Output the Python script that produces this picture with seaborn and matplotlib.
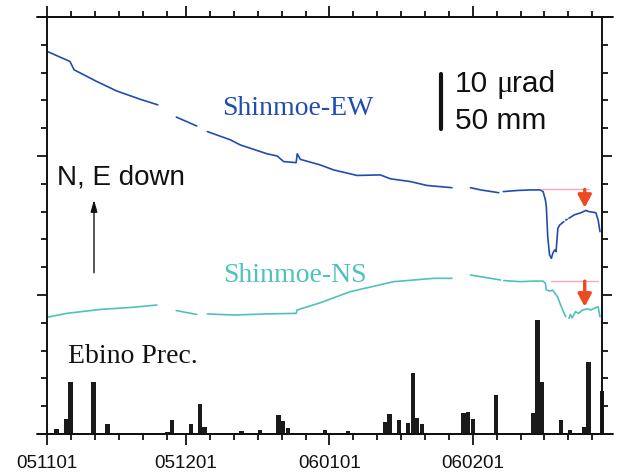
import numpy as np
import pandas as pd
import seaborn as sns
from matplotlib import pyplot as plt
from matplotlib.ticker import FixedLocator, MultipleLocator

# x: days since 2005-11-01, tilt in micro-radian (offset as drawn), rain in mm/day
month_start = [0, 30, 61, 92]
month_labels = ['051101', '051201', '060101', '060201']

ew_day = [0, 4.9, 5.8, 10.7, 15.0, 20.1, 23.9, np.nan,
          27.9, 32.3, np.nan,
          34.6, 39.6, 41.7, 47.5, 49.7, 51.1, 53.8, 54.05, 54.7, 59.0, 61.9, 67.0, 72.0,
          74.2, 78.5, 82.1, 87.5, np.nan,
          91.5, 93.7, 97.6, np.nan,
          98.6, 101.6, 104.5, 106.6, 107.2, 107.7, 107.9, 108.2, 108.6, 109.0, 109.3, 109.7,
          110.0, 110.4, 110.8, 111.7, np.nan,
          112.1, 112.4, np.nan,
          112.8, 113.9, 115.4, 116.4, 117.1, 118.6, 119.1, 119.5]
ew_tilt = [68.8, 67.0, 65.5, 63.4, 61.7, 60.2, 59.2, np.nan,
           57.0, 55.4, np.nan,
           54.4, 52.9, 52.0, 50.4, 50.0, 49.0, 48.8, 50.4, 49.4, 48.4, 47.5, 46.5, 46.6,
           45.9, 45.4, 44.7, 44.3, np.nan,
           44.3, 43.9, 43.4, np.nan,
           43.6, 43.8, 43.9, 43.9, 43.6, 42.1, 40.9, 35.5, 32.2, 31.6, 32.5, 33.1,
           32.8, 37.0, 37.6, 38.2, np.nan,
           38.5, 38.6, np.nan,
           38.8, 39.4, 39.8, 40.2, 40.0, 39.8, 38.5, 36.4]

ns_day = [0, 4.2, 11.4, 18.6, 23.7, np.nan,
          27.9, 32.3, np.nan,
          34.6, 40.3, 47.5, 53.8, 54.0, 59.0, 65.5, 74.9, 83.6, 87.5, np.nan,
          91.5, 98.0, np.nan,
          98.7, 102.3, 105.2, 107.2, 107.7, 107.9, 108.8, 109.2, 109.5, 110.3, 111.0,
          111.6, 112.1, np.nan,
          112.8, 113.1, 113.5, 114.2, 114.9, 115.7, 116.8, 117.5, 118.5, 119.1, 119.5]
ns_tilt = [21.0, 21.7, 22.4, 22.8, 23.2, np.nan,
           22.2, 21.5, np.nan,
           21.6, 21.4, 21.6, 21.7, 22.3, 23.6, 25.6, 27.4, 28.0, 28.0, np.nan,
           28.6, 27.7, np.nan,
           27.6, 27.4, 27.5, 27.5, 27.1, 25.9, 25.7, 25.9, 25.6, 24.7, 23.2,
           22.0, 21.1, np.nan,
           20.8, 21.5, 20.9, 22.0, 21.7, 22.3, 22.5, 22.3, 22.7, 22.9, 21.1]

rain_day = [2, 4, 5, 10, 13, 26, 27, 31, 33, 34, 36, 42, 44, 45, 46, 47, 50, 51, 52,
            60, 61, 65, 66, 73, 74, 76, 78, 79, 80, 81, 82, 90, 91, 92, 97, 98,
            105, 106, 107, 111, 112, 113, 114, 116, 117, 119, 120]
rain_mm = [4.5, 13.5, 47, 47, 8.7, 1.5, 12.6, 8.7, 26.7, 6.6, 1, 2.7, 1, 1, 3.6, 1, 17, 11.7, 5.7,
           3.6, 1, 2.4, 1, 10.5, 17.7, 12.6, 9.6, 55, 14.7, 8.7, 1, 18.6, 19.5, 13.5, 35, 1,
           19.2, 102.6, 47, 12.6, 1, 3.6, 1, 6.6, 65, 1, 39]

# level before the event and where it sits afterwards
ew_ref = (107.0, 117.1, 44.0)
ns_ref = (109.0, 119.1, 27.5)
arrow_day = 116.2
ew_after = 40.7
ns_after = 22.9

mm_per_urad = 5.0   # 10 urad <-> 50 mm

sns.set_theme(style='ticks')
plt.rcParams['font.family'] = ['Liberation Sans', 'DejaVu Sans']

ew_col = '#1f4db0'
ns_col = '#4fc1bb'
red = '#ee4a22'
pink = '#f6a8bf'
ink = '#111111'


def to_frame(days, vals):
    df = pd.DataFrame({'day': days, 'tilt': vals})
    df['seg'] = df['day'].isna().cumsum()
    return df.dropna()


fig = plt.figure(figsize=(6.19, 4.76), dpi=100)
ax = fig.add_axes([0.0764, 0.0882, 0.8966, 0.8761])

sns.histplot(x=rain_day, weights=np.array(rain_mm) / mm_per_urad, discrete=True, shrink=0.93,
             color='#1a1a1a', alpha=1, linewidth=0, ax=ax)
for p in ax.patches:
    p.set_clip_on(False)

sns.lineplot(data=to_frame(ew_day, ew_tilt), x='day', y='tilt', units='seg', estimator=None,
             color=ew_col, lw=1.2, ax=ax)
sns.lineplot(data=to_frame(ns_day, ns_tilt), x='day', y='tilt', units='seg', estimator=None,
             color=ns_col, lw=1.2, ax=ax)

for x0, x1, y in (ew_ref, ns_ref):
    ax.plot([x0, x1], [y, y], color=pink, lw=1)
for y0, y1 in ((ew_ref[2], ew_after), (ns_ref[2], ns_after)):
    ax.annotate('', xy=(arrow_day, y1), xytext=(arrow_day, y0),
                arrowprops=dict(arrowstyle='-|>,head_length=0.75,head_width=0.4',
                                mutation_scale=10, color=red, lw=2.4,
                                shrinkA=0, shrinkB=0))

# scale bar
ax.plot([85.15, 85.15], [54.8, 54.8 + 10], color=ink, lw=3, solid_capstyle='round')
ax.text(0.7345, 0.8209, '10', transform=ax.transAxes, fontsize=21.5, color=ink)
ax.text(0.8085, 0.8209, '\u03bc', transform=ax.transAxes, fontsize=22, color=ink,
        family='Liberation Serif')
ax.text(0.8375, 0.8209, 'rad', transform=ax.transAxes, fontsize=21.5, color=ink)
ax.text(0.7345, 0.7307, '50 mm', transform=ax.transAxes, fontsize=21.5, color=ink)

ax.text(0.3153, 0.765, 'Shinmoe-EW', transform=ax.transAxes, fontsize=20, color=ew_col,
        family='Liberation Serif')
ax.text(0.3161, 0.365, 'Shinmoe-NS', transform=ax.transAxes, fontsize=20, color=ns_col,
        family='Liberation Serif')
ax.text(0.0373, 0.1695, 'Ebino Prec.', transform=ax.transAxes, fontsize=20, color=ink,
        family='Liberation Serif')
ax.text(0.0169, 0.5988, 'N, E down', transform=ax.transAxes, fontsize=20, color=ink)
ax.annotate('', xy=(10.1, 42.1), xytext=(10.1, 29.0),
            arrowprops=dict(arrowstyle='-|>,head_length=0.7,head_width=0.2',
                            mutation_scale=10, color=ink, lw=1, shrinkA=0, shrinkB=0))

ax.set_xlim(0, 120)
ax.set_ylim(0, 75)
ax.set_xlabel('')
ax.set_ylabel('')

ax.xaxis.set_major_locator(FixedLocator(month_start))
ax.xaxis.set_minor_locator(FixedLocator([m + k * 31 / 6 for m in month_start for k in range(1, 6)]))
ax.set_xticklabels(month_labels)
ax.yaxis.set_major_locator(MultipleLocator(25))
ax.yaxis.set_minor_locator(MultipleLocator(5))
ax.set_yticklabels([])

ax.tick_params(which='both', direction='out', top=True, right=True, color=ink, width=1.3)
ax.tick_params(axis='x', which='major', length=8, labelsize=13.5, pad=7, labelcolor=ink)
ax.tick_params(axis='x', which='minor', length=4.5)
ax.tick_params(axis='y', which='major', length=7.5)
ax.tick_params(axis='y', which='minor', length=4.5)
for s in ax.spines.values():
    s.set_visible(True)
    s.set_linewidth(1.4)
    s.set_color(ink)

# horizontal frame lines run a little past the box
for yy in (0, 1):
    ax.plot([-0.018, 1.019], [yy, yy], transform=ax.transAxes, color=ink, lw=1.4,
            clip_on=False)

fig.savefig('out.png', dpi=100)
